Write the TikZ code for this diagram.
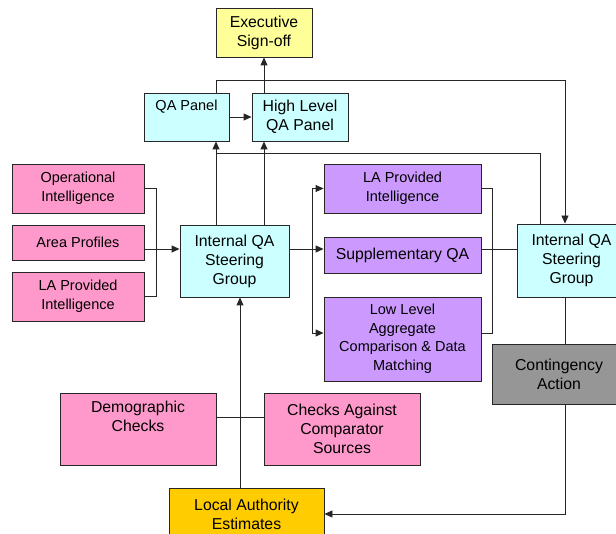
\documentclass[tikz,border=0pt]{standalone}
\usepackage{fontspec}
\setmainfont{Liberation Sans}
\usetikzlibrary{arrows.meta}
\definecolor{pinkbox}{HTML}{FF99CC}
\definecolor{cyanbox}{HTML}{CCFFFF}
\definecolor{purplebox}{HTML}{CC99FF}
\definecolor{yellowbox}{HTML}{FFFF99}
\definecolor{goldbox}{HTML}{FFCC00}
\definecolor{greybox}{HTML}{969696}
\definecolor{edge}{HTML}{262626}
\tikzset{
  box/.style={draw=edge, line width=0.9pt, inner sep=0pt, align=center,
    font=\fontsize{15.8}{19}\selectfont},
  smalltext/.style={font=\fontsize{14.5}{18.5}\selectfont},
  conn/.style={draw=edge, line width=0.9pt},
  arr/.style={conn, -{Triangle[length=8pt,width=7pt]}},
}
\begin{document}
\begin{tikzpicture}[x=1pt,y=-1pt]
  \fill[white] (0,0) rectangle (616,534);
  \clip (0,0) rectangle (616,534);

  % boxes
  \node[box, fill=yellowbox, minimum width=96, minimum height=49] (exec) at (264,32.5) {Executive\\Sign-off};
  \node[box, smalltext, fill=cyanbox, minimum width=85, minimum height=48] (qap) at (186.5,117) {QA Panel\\\strut};
  \node[box, fill=cyanbox, minimum width=96, minimum height=48] (hlqa) at (300,117) {High Level\\QA Panel};

  \node[box, smalltext, fill=pinkbox, minimum width=132, minimum height=49] (oi) at (78,188.5) {Operational\\Intelligence};
  \node[box, smalltext, fill=pinkbox, minimum width=132, minimum height=35] (ap) at (78,242.5) {Area Profiles};
  \node[box, smalltext, fill=pinkbox, minimum width=132, minimum height=49] (lap) at (78,296.5) {LA Provided\\Intelligence};

  \node[box, fill=cyanbox, minimum width=109, minimum height=72] (iqa1) at (234.5,261) {Internal QA\\Steering\\Group};

  \node[box, smalltext, fill=purplebox, minimum width=157, minimum height=49] (pla) at (402.5,188.5) {LA Provided\\Intelligence};
  \node[box, fill=purplebox, minimum width=157, minimum height=36] (sup) at (402.5,255) {Supplementary QA};
  \node[box, smalltext, fill=purplebox, minimum width=157, minimum height=84] (lla) at (402.5,339) {Low Level\\Aggregate\\Comparison \& Data\\Matching};

  \node[box, fill=cyanbox, minimum width=109, minimum height=73] (iqa2) at (571.5,260.5) {Internal QA\\Steering\\Group};
  \node[box, fill=greybox, minimum width=134, minimum height=60] (cont) at (559,374) {Contingency\\Action};

  \node[box, fill=pinkbox, minimum width=156, minimum height=72] (demo) at (138,429) {Demographic\\Checks\\\strut};
  \node[box, fill=pinkbox, minimum width=156, minimum height=72] (cacs) at (342,429) {Checks Against\\Comparator\\Sources};

  \node[box, fill=goldbox, minimum width=155, minimum height=52] (lae) at (246.5,514) {Local Authority\\Estimates};

  % guide lines for the connector routes
  \coordinate (vqa) at (216,0);
  \coordinate (vhl) at (264,0);
  \coordinate (vr) at (565,0);
  \coordinate (vrb) at (540,0);
  \coordinate (bl) at (156,0);
  \coordinate (bm) at (312,0);
  \coordinate (br) at (492,0);
  \coordinate (vd) at (240,0);
  \coordinate (rowTop) at (0,80);
  \coordinate (rowFb) at (0,153);
  \coordinate (rowA) at (0,249);
  \coordinate (rowB) at (0,333);
  \coordinate (rowC) at (0,417);

  % top section
  \draw[arr] (hlqa.north -| exec.south) -- (exec.south);
  \draw[arr] (qap.east |- hlqa.east) -- (hlqa.west);
  \draw[arr] (qap.north -| vqa) -- (vqa |- rowTop) -- (vr |- rowTop) -- (iqa2.north -| vr);
  \draw[arr] (iqa1.north -| vqa) -- (qap.south -| vqa);
  \draw[arr] (iqa1.north -| vhl) -- (hlqa.south -| vhl);
  \draw[conn] (iqa2.north -| vrb) -- (vrb |- rowFb) -- (vqa |- rowFb);

  % left inputs
  \draw[conn] (oi.east) -- (bl |- oi.east) -- (bl |- lap.east) -- (lap.east);
  \draw[arr] (ap.east |- rowA) -- (iqa1.west |- rowA);

  % middle fan-out
  \draw[arr] (iqa1.east |- rowA) -- (sup.west |- rowA);
  \draw[arr] (bm |- pla.west) -- (pla.west);
  \draw[arr] (bm |- rowB) -- (lla.west |- rowB);
  \draw[conn] (bm |- pla.west) -- (bm |- rowB);

  % right side
  \draw[conn] (pla.east) -- (br |- pla.east) -- (br |- rowB) -- (lla.east |- rowB);
  \draw[conn] (sup.east |- rowA) -- (iqa2.west |- rowA);
  \draw[conn] (iqa2.south -| vr) -- (cont.north -| vr);
  \draw[arr] (cont.south -| vr) -- (vr |- lae.east) -- (lae.east);

  % bottom section
  \draw[conn] (demo.east |- rowC) -- (cacs.west |- rowC);
  \draw[arr] (lae.north -| vd) -- (iqa1.south -| vd);
\end{tikzpicture}
\end{document}
